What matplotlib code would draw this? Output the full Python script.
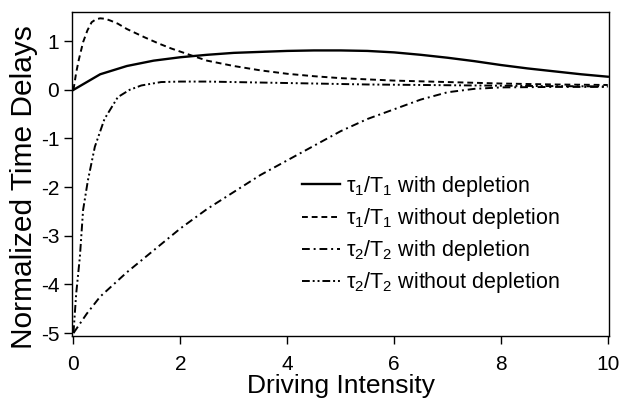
import matplotlib
matplotlib.use('Agg')
import matplotlib.pyplot as plt

plt.rcParams['font.family'] = ['Liberation Sans', 'DejaVu Sans']
plt.rcParams['mathtext.fontset'] = 'custom'
plt.rcParams['mathtext.rm'] = 'Liberation Sans'
plt.rcParams['mathtext.it'] = 'Liberation Sans'
plt.rcParams['axes.unicode_minus'] = False

# tau1/T1 with depletion (solid)
x_t1_dep = [0, 0.5, 1.0, 1.5, 2.0, 2.5, 3.0, 3.5, 4.0, 4.5, 5.0, 5.5, 6.0, 6.5, 7.0, 7.5, 8.0, 8.5, 9.0, 9.5, 10.0]
y_t1_dep = [0, 0.32, 0.49, 0.60, 0.67, 0.72, 0.76, 0.78, 0.80, 0.81, 0.81, 0.80, 0.77, 0.72, 0.66, 0.59, 0.51, 0.44, 0.38, 0.32, 0.27]

# tau1/T1 without depletion (dashed)
x_t1_nodep = [0, 0.05, 0.1, 0.18, 0.26, 0.34, 0.42, 0.5, 0.6, 0.7, 0.83, 1.0, 1.33, 1.6, 1.83, 2.2, 2.5, 3.0, 3.5, 4.0, 4.5, 5.0, 6.0, 7.0, 8.0, 9.0, 10.0]
y_t1_nodep = [0, 0.35, 0.62, 0.98, 1.22, 1.39, 1.45, 1.47, 1.46, 1.42, 1.36, 1.25, 1.08, 0.95, 0.85, 0.71, 0.60, 0.49, 0.40, 0.33, 0.28, 0.24, 0.19, 0.16, 0.13, 0.11, 0.10]

# tau2/T2 with depletion (dash-dot)
x_t2_dep = [0, 0.25, 0.5, 1.0, 1.5, 2.0, 2.5, 3.0, 3.5, 4.0, 4.5, 5.0, 5.5, 6.0, 6.5, 7.0, 7.5, 8.0, 9.0, 10.0]
y_t2_dep = [-5.0, -4.6, -4.25, -3.75, -3.3, -2.85, -2.45, -2.1, -1.75, -1.45, -1.15, -0.85, -0.6, -0.4, -0.2, -0.05, 0.02, 0.05, 0.06, 0.06]

# tau2/T2 without depletion (dash-dot-dot)
x_t2_nodep = [0, 0.05, 0.12, 0.18, 0.27, 0.4, 0.58, 0.83, 1.05, 1.27, 1.64, 2.0, 2.5, 3.0, 3.5, 4.5, 5.5, 6.5, 7.5, 8.5, 10.0]
y_t2_nodep = [-5.0, -4.2, -3.43, -2.47, -1.86, -1.17, -0.6, -0.15, 0.0, 0.09, 0.16, 0.17, 0.17, 0.16, 0.15, 0.13, 0.11, 0.10, 0.09, 0.08, 0.07]

labels = [r'$\tau_1$/T$_1$ with depletion',
          r'$\tau_1$/T$_1$ without depletion',
          r'$\tau_2$/T$_2$ with depletion',
          r'$\tau_2$/T$_2$ without depletion']

fig = plt.figure(figsize=(6.25, 4), dpi=100)
ax = fig.add_axes([0.115, 0.16, 0.86, 0.81])

lw = 1.4
ax.plot(x_t1_dep, y_t1_dep, color='black', lw=1.7, label=labels[0])
ax.plot(x_t1_nodep, y_t1_nodep, color='black', lw=lw, dashes=(3, 2), label=labels[1])
ax.plot(x_t2_dep, y_t2_dep, color='black', lw=lw, dashes=(4, 2, 1, 2), label=labels[2])
ax.plot(x_t2_nodep, y_t2_nodep, color='black', lw=lw, dashes=(4, 1.5, 1, 1.5, 1, 1.5), label=labels[3])

ax.set_xlim(-0.03, 10.03)
ax.set_ylim(-5.06, 1.6)
ax.set_xticks([0, 2, 4, 6, 8, 10])
ax.set_yticks([-5, -4, -3, -2, -1, 0, 1])
ax.tick_params(direction='out', length=6, width=1, labelsize=15)
ax.tick_params(axis='x', pad=8)
ax.tick_params(axis='y', pad=3)
for s in ax.spines.values():
    s.set_linewidth(1)

ax.set_xlabel('Driving Intensity', fontsize=19, labelpad=0)
ax.set_ylabel('Normalized Time Delays', fontsize=21.5, labelpad=2, y=0.46)

ax.legend(loc='upper left', bbox_to_anchor=(0.428, 0.50), frameon=False, fontsize=15.5,
          borderpad=0, borderaxespad=0,
          handlelength=1.75, handletextpad=0.3, labelspacing=0.33)

fig.savefig('out.png', dpi=100)
